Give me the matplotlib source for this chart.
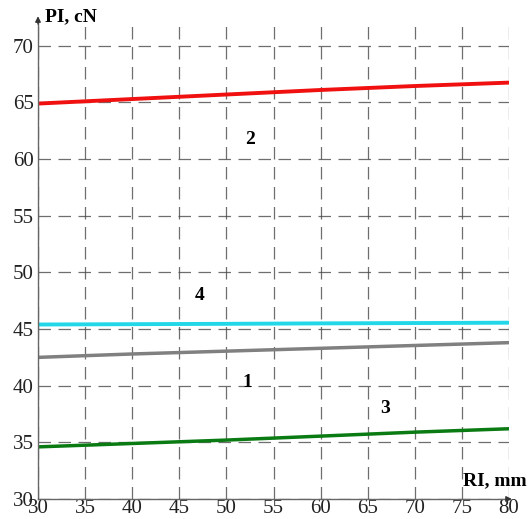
import numpy as np
import matplotlib.pyplot as plt

plt.rcParams['font.family'] = ['Liberation Serif', 'DejaVu Serif']

# radius RI, mm
ri = [30, 40, 50, 60, 70, 80]
# force PI, cN, for each curve
pi_1 = [42.5, 42.8, 43.05, 43.3, 43.55, 43.8]
pi_2 = [64.9, 65.3, 65.7, 66.1, 66.45, 66.75]
pi_3 = [34.6, 34.9, 35.2, 35.55, 35.9, 36.2]
pi_4 = [45.4, 45.43, 45.46, 45.5, 45.53, 45.56]

curve_names = ['1', '2', '3', '4']
label_pos = [(52.2, 40.3), (52.5, 61.7), (66.8, 38.0), (47.2, 48.0)]

xticks = list(range(30, 81, 5))
yticks = list(range(30, 71, 5))

fig = plt.figure(figsize=(5.32, 5.19), dpi=100)
ax = fig.add_axes([38 / 532, 1 - 499 / 519, (509 - 38) / 532, (499 - 22) / 519])

ax.plot(ri, pi_2, color='#f01010', lw=2.8)
ax.plot(ri, pi_4, color='#22d8e8', lw=2.8)
ax.plot(ri, pi_1, color='#808080', lw=2.5)
ax.plot(ri, pi_3, color='#0a7a12', lw=2.5)

for name, (x, y) in zip(curve_names, label_pos):
    ax.text(x, y, name, fontsize=14, fontweight='bold', ha='center', va='center')

ax.set_xlim(30, 80)
ax.set_ylim(30, 72.1)
ax.set_xticks(xticks)
ax.set_yticks(yticks)
ax.grid(True, color='#4a4a4a', lw=0.9, ls=(0, (10, 6)), alpha=0.8)
ax.set_axisbelow(True)

for side in ['top', 'right']:
    ax.spines[side].set_visible(False)
for side in ['left', 'bottom']:
    ax.spines[side].set_color('#666666')
    ax.spines[side].set_linewidth(1.0)

ax.tick_params(length=0, labelsize=15, labelcolor='#222222')
ax.tick_params(axis='x', pad=0)
ax.tick_params(axis='y', pad=3)

# axis arrows
ax.annotate('', xy=(1.012, 0), xytext=(0.99, 0), xycoords='axes fraction',
            arrowprops=dict(arrowstyle='-|>', color='#333333', lw=1, mutation_scale=8))
ax.annotate('', xy=(0, 1.018), xytext=(0, 0.99), xycoords='axes fraction',
            arrowprops=dict(arrowstyle='-|>', color='#333333', lw=1, mutation_scale=8))

fig.text(45 / 532, 1 - 17 / 519, 'PI, cN', fontsize=14, fontweight='bold', ha='left', va='center')
fig.text(527 / 532, 1 - 481 / 519, 'RI, mm', fontsize=14, fontweight='bold', ha='right', va='center')

fig.savefig('out.png', dpi=100)
